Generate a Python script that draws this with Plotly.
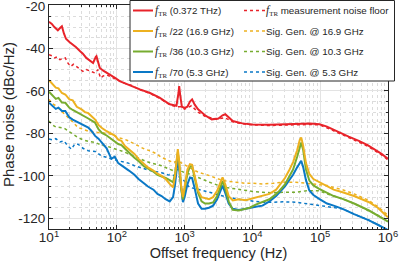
import plotly.graph_objects as go

# ---------------- data ----------------
# common frequency grid (Hz) for the divided-down solid traces
f_div = [10, 11.2, 12.6, 13.8, 15.5, 17.4, 20.0, 22.4, 25.7, 30.2, 33.9, 38.0, 42.7, 47.9, 53.7, 60.3,
         70.8, 83.2, 93.3, 105, 117, 132, 151, 182, 209, 251, 288, 347, 398, 457, 525, 603, 676, 724,
         759, 794, 832, 891, 944, 1000, 1100, 1200, 1290, 1410, 1580, 1780, 2000, 2290, 2630, 3020,
         3390, 3630, 3980, 4470, 5130, 6310, 7940, 9120, 11200, 14100, 17800, 22400, 25100, 30200,
         34700, 39800, 45700, 50100, 52500, 56200, 61700, 69200, 79400, 96600, 126000, 158000,
         214000, 316000, 525000, 708000, 933000, 1000000]

pn_div22 = [-55, -56.5, -58.5, -58.8, -61, -61.7, -64, -64.5, -67.5, -68.7, -70, -70.5, -72, -73.5, -76,
            -77.5, -79, -80.4, -81, -83, -83.5, -86, -87.5, -89.7, -92, -94.5, -96, -97.5, -99, -100,
            -101.5, -103.8, -105.4, -100, -93, -87.4, -93, -105, -110, -105, -97, -94.5, -94.8, -100,
            -107, -110, -110.5, -111, -110, -107, -103, -100.7, -104, -109.5, -111.6, -111, -111.5,
            -111, -110, -109.2, -108.5, -106.5, -104.6, -101, -97.5, -93.5, -88, -83, -81.9, -86, -94,
            -99.1, -101.5, -103, -105, -106.5, -107.7, -109.5, -112.4, -115, -118.6, -119.5]

pn_div36 = [-60.4, -62, -63.8, -63.3, -65.5, -65.6, -68, -69, -70, -71, -71.8, -73, -74, -75, -78,
            -79.8, -81, -82.7, -84, -85, -85.5, -87.4, -89, -91.5, -93, -95.5, -96.5, -98, -99.5,
            -100.2, -101, -102, -103, -99, -94, -89, -94, -106, -111, -106, -99, -95.5, -95.5, -101,
            -108, -112, -113, -113, -112.5, -109.5, -105, -102.5, -106, -112, -116, -116.3, -115.5,
            -115, -113.5, -112.4, -111, -108.5, -107, -104, -100.5, -97, -91, -86, -84.3, -88, -97,
            -102.2, -104.5, -106.1, -108, -109.5, -110.8, -113, -116.3, -118.5, -120.9, -121.5]

pn_div70 = [-65.6, -67, -68.5, -67.9, -69.5, -69.5, -72.5, -73.5, -74.5, -76, -76.5, -77.3, -79, -81.2,
            -82.5, -84.5, -87, -92, -91, -94, -95, -96, -97.5, -99.5, -101.5, -103.5, -105, -106.5,
            -108.5, -109.5, -111, -112, -110, -104, -97, -92.1, -97, -107, -112.4, -110, -104, -100.7,
            -101, -106, -113, -115.5, -115.5, -115, -114, -111, -107, -104.6, -108, -113, -115.5, -116,
            -115.5, -115, -114.5, -114, -112, -109.5, -107.7, -105, -102.2, -99.5, -96, -93.5, -92.9,
            -96, -102, -106.9, -109, -110.8, -113, -114, -115.5, -118, -120.9, -123, -124.8, -125.5]

# frequency grid (Hz) for the signal-generator references
f_sg = [10, 11.2, 12.6, 14.5, 16.6, 19.1, 21.4, 24.0, 26.9, 31.6, 38.0, 47.9, 58.9, 70.8, 83.2, 105,
        123, 148, 182, 219, 257, 309, 380, 457, 562, 676, 794, 1000, 1170, 1410, 1660, 2340, 3160,
        4170, 5750, 7940, 10000, 14100, 20000, 28200, 43700, 63100, 96600, 126000, 158000, 214000,
        316000, 525000, 708000, 933000, 1000000]

pn_sg169 = [-64, -66, -67, -69, -70.5, -72.5, -74, -75.5, -77.3, -78, -79, -79.6, -79.6, -80, -80.4,
            -82, -82.5, -83.5, -85, -86, -87.4, -88.2, -89.5, -91.3, -92.5, -93.7, -93, -95, -96,
            -97.5, -98.5, -99.9, -101.5, -102.5, -103, -103.5, -103.5, -103.8, -103.5, -103, -103,
            -103.5, -103.8, -104.5, -105.5, -106.5, -108.5, -111.6, -114.5, -117.8, -118.5]

pn_sg103 = [-74.2, -76, -77, -77.3, -77.5, -78.8, -80, -81, -82, -83, -83.8, -84.3, -85.5, -86, -86.6,
            -87.8, -88.5, -89.7, -91, -92, -92.9, -93.8, -94.5, -95.2, -96.5, -97.5, -97, -98.5,
            -99.1, -100, -101, -103, -104.5, -105.5, -106.1, -107, -107.3, -107.7, -108, -107.7,
            -107.7, -107, -107, -108.5, -109.5, -110.8, -113, -116.3, -118.5, -120.9, -121.5]

pn_sg53 = [-82.7, -83, -82.5, -84, -83.5, -86, -87.4, -85, -85.1, -87, -88.2, -88.5, -90.5, -91.5, -92,
           -92.9, -93.5, -94, -95.2, -96, -96.5, -97.5, -98, -98.5, -99.5, -99.9, -100, -102.5,
           -105.3, -106, -106.5, -107.7, -109, -110, -110.8, -111.5, -111.8, -112.4, -112.4, -112.2,
           -112.4, -113, -113.9, -114.5, -115, -115.5, -118, -120.9, -123, -124.8, -125.5]

# optical beat note f_TR (0.372 THz)
f_tr = [10, 11.0, 12.0, 13.5, 14.8, 15.5, 16.6, 17.8, 20.0, 22.9, 25.1, 28.8, 31.6, 35.5, 39.8, 44.7,
        49.0, 50.1, 52.5, 56.2, 63.1, 70.8, 83.2, 95.5, 110, 132, 166, 219, 309, 427, 603, 759, 813,
        832, 861, 912, 1000, 1100, 1200, 1290, 1410, 1580, 2000, 2510, 3160, 3630, 3980, 4470, 5130,
        7080, 10000, 17800, 31600, 49000, 70800, 97700, 126000, 151000, 191000, 263000, 372000,
        501000, 631000, 794000, 1000000]
pn_tr = [-27.5, -28.5, -30, -31.5, -30.2, -29.6, -33, -35.5, -37, -38.3, -39.5, -41.4, -42.5, -44.5,
         -45.5, -46.9, -44, -43.7, -46, -49.2, -50.5, -51.5, -52.5, -54, -55.4, -56.5, -57.5, -59.3,
         -61, -63.2, -66.3, -67, -61, -57.8, -62, -67.5, -68, -67.5, -65, -64, -66.5, -68.7, -71.5,
         -73.4, -73, -71.5, -71, -72.5, -74.2, -75.3, -75.8, -76, -75.6, -75.4, -75.3, -75.7, -76.8,
         -78, -79.6, -81.5, -83.5, -85.5, -87.5, -89.5, -92]

f_floor = [10, 11.0, 12.0, 13.2, 14.5, 15.8, 17.4, 19.1, 20.9, 22.9, 26.9, 31.6, 35.5, 39.8, 44.7,
           47.9, 52.5, 57.5, 63.1, 70.8, 83.2, 110, 132, 166, 219, 309, 427, 603, 759, 891, 1000,
           1260, 1580, 2000, 2950, 3890, 5130, 7080, 10000, 17800, 31600, 49000, 70800, 97700,
           126000, 151000, 191000, 263000, 372000, 501000, 631000, 794000, 1000000]
pn_floor = [-43, -43.5, -44.5, -44, -45.3, -45, -44.5, -47, -48.5, -47.5, -49.2, -50.8, -50, -50.5,
            -51, -51.6, -50, -53.9, -53, -52.5, -53.5, -55.5, -56.5, -57.5, -59.5, -61.2, -63.5,
            -66.5, -67.5, -67.5, -68.6, -67, -70, -72, -73.4, -72.6, -74.5, -75.5, -76, -76.3, -76,
            -75.8, -75.8, -76, -77.3, -78.5, -80, -82, -84, -86, -88, -90, -92.5]

x_tickvals = [10, 100, 1000, 10000, 100000, 1000000]
x_ticktext = ["10<sup>1</sup>", "10<sup>2</sup>", "10<sup>3</sup>", "10<sup>4</sup>",
              "10<sup>5</sup>", "10<sup>6</sup>"]
y_tickvals = [-20, -40, -60, -80, -100, -120]
y_ticktext = ["-20", "-40", "-60", "-80", "-100", "-120"]

FTR = ('<span style="font-family:\'Liberation Serif\'"><span style="font-size:11.5px"><i>f</i></span>'
       '<sub>TR</sub></span>')
labels_solid = [FTR + " (0.372 THz)", FTR + " /22 (16.9 GHz)",
                FTR + " /36 (10.3 GHz)", FTR + " /70 (5.3 GHz)"]
labels_dot = [FTR + " measurement noise floor", "Sig. Gen. @ 16.9 GHz",
              "Sig. Gen. @ 10.3 GHz", "Sig. Gen. @ 5.3 GHz"]

RED, ORA, GRN, BLU = "#e8232a", "#edb120", "#77ac30", "#0a78c6"

# ---------------- figure ----------------
fig = go.Figure()
dotted = [(f_sg, pn_sg53, BLU), (f_sg, pn_sg103, GRN), (f_sg, pn_sg169, ORA), (f_floor, pn_floor, RED)]
solid = [(f_div, pn_div70, BLU), (f_div, pn_div36, GRN), (f_div, pn_div22, ORA), (f_tr, pn_tr, RED)]
for fx, py, c in dotted:
    fig.add_trace(go.Scatter(x=fx, y=py, mode="lines", showlegend=False, hoverinfo="skip",
                             line=dict(color=c, width=1.5, dash="dot")))
for fx, py, c in solid:
    fig.add_trace(go.Scatter(x=fx, y=py, mode="lines", showlegend=False, hoverinfo="skip",
                             line=dict(color=c, width=2)))

FONT = "Liberation Sans, Arial, sans-serif"
TXT = "#262626"

fig.update_layout(
    width=399, height=269,
    margin=dict(l=49, r=11, t=5, b=40),
    paper_bgcolor="white", plot_bgcolor="white",
    font=dict(family=FONT, color=TXT, size=13.5),
    showlegend=False,
)
fig.update_xaxes(
    type="log", range=[1, 6], automargin=False,
    tickvals=x_tickvals, ticktext=x_ticktext, tickfont=dict(size=13.5, color=TXT),
    ticks="inside", ticklen=4, tickcolor=TXT, ticklabelstandoff=-4, ticklabeloverflow="allow",
    showline=True, linecolor=TXT, linewidth=1, mirror="ticks",
    showgrid=True, gridcolor="#e3e3e3", gridwidth=1,
    minor=dict(dtick="D1", ticks="inside", ticklen=2, tickcolor=TXT,
               showgrid=True, gridcolor="#dcdcdc", griddash="dot", gridwidth=1),
    title=dict(text="Offset frequency (Hz)", font=dict(size=14.5, color=TXT), standoff=0),
    zeroline=False,
)
fig.update_yaxes(
    range=[-125, -19.6], automargin=False,
    tickvals=y_tickvals, ticktext=y_ticktext, tickfont=dict(size=13.5, color=TXT),
    ticks="inside", ticklen=4, tickcolor=TXT, ticklabeloverflow="allow",
    showline=True, linecolor=TXT, linewidth=1, mirror="ticks",
    showgrid=True, gridcolor="#e3e3e3", gridwidth=1,
    minor=dict(dtick=5, ticks="inside", ticklen=2, tickcolor=TXT,
               showgrid=True, gridcolor="#dcdcdc", griddash="dot", gridwidth=1),
    zeroline=False,
)

# ---------------- legend box (two columns) ----------------
L, T, W, H = 49, 5, 339, 224
def px(x):
    return (x - L) / W
def py_(y):
    return (T + H - y) / H

# y-axis title placed as rotated text
fig.add_annotation(text="Phase noise (dBc/Hz)", xref="paper", yref="paper", x=px(8), y=py_(115),
                   xanchor="center", yanchor="middle", textangle=-90, showarrow=False,
                   font=dict(size=15, color=TXT, family=FONT))

fig.add_shape(type="rect", xref="paper", yref="paper",
              x0=px(130), x1=px(394.5), y0=py_(81), y1=py_(0.5),
              fillcolor="white", line=dict(color=TXT, width=1), layer="above")
rows = [10.5, 31, 51.5, 72]
cols = [RED, ORA, GRN, BLU]
for r, c, ls, ld in zip(rows, cols, labels_solid, labels_dot):
    fig.add_shape(type="line", xref="paper", yref="paper", x0=px(133), x1=px(153),
                  y0=py_(r), y1=py_(r), line=dict(color=c, width=2), layer="above")
    fig.add_shape(type="line", xref="paper", yref="paper", x0=px(244), x1=px(265),
                  y0=py_(r), y1=py_(r), line=dict(color=c, width=1.5, dash="dot"), layer="above")
    fig.add_annotation(text=ls, xref="paper", yref="paper", x=px(152.5), y=py_(r),
                       xanchor="left", yanchor="middle", showarrow=False,
                       font=dict(size=9.8, color=TXT, family=FONT))
    fig.add_annotation(text=ld, xref="paper", yref="paper", x=px(263.5), y=py_(r),
                       xanchor="left", yanchor="middle", showarrow=False,
                       font=dict(size=9.8, color=TXT, family=FONT))

fig.write_html("out.html", config={"displayModeBar": False},
               post_script="document.body.style.margin='0';")
